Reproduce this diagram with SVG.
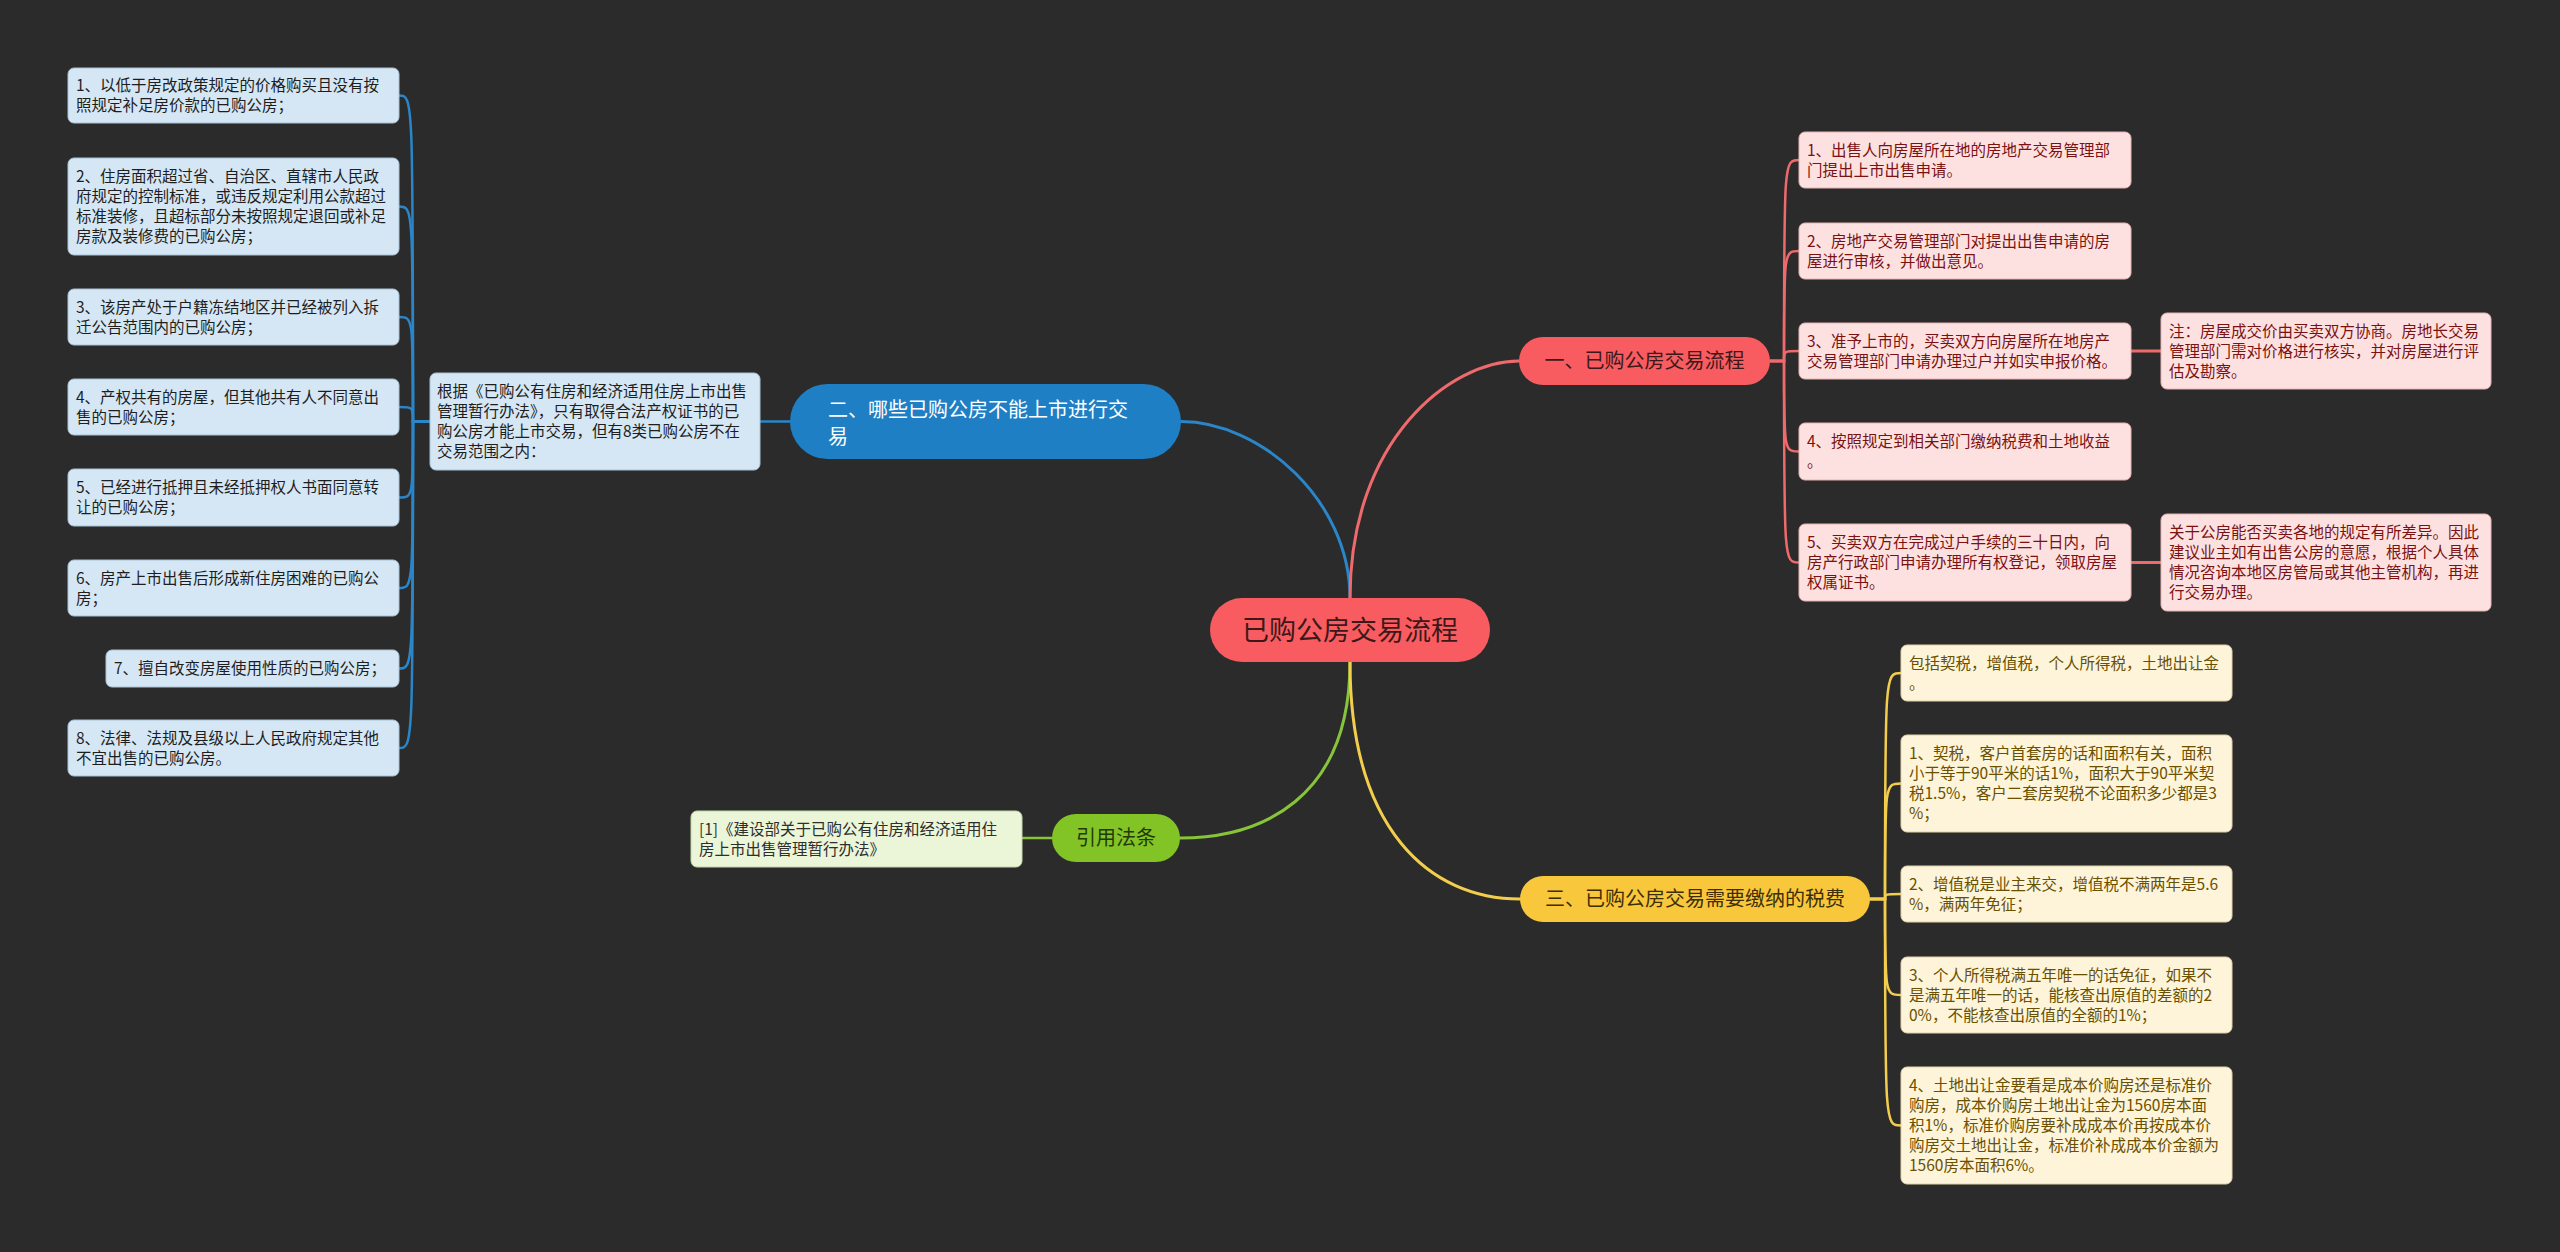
<svg xmlns="http://www.w3.org/2000/svg" width="2560" height="1252" viewBox="0 0 2560 1252">
<style>
text{font-family:"Noto Sans CJK SC","Noto Sans",sans-serif;}
.t{font-size:15.5px;}
.tb{fill:#1e1e1e;}
.tr{fill:#7a1212;}
.ty{fill:#6a5000;}
.tg{fill:#2e2e2e;}
.bb{fill:#d5e7f4;stroke:#a9c3d6;stroke-width:1;}
.br{fill:#fde1e1;stroke:#e6b3b3;stroke-width:1;}
.by{fill:#fdf4da;stroke:#e2d3a6;stroke-width:1;}
.bg{fill:#ebf5d8;stroke:#c3d6a6;stroke-width:1;}
.c{fill:none;stroke-linecap:round;}
.cb{stroke:#2a86c8;}
.cr{stroke:#ef6a6d;}
.cy{stroke:#f3cd4c;}
.cg{stroke:#86c53a;}
.main{font-size:20px;text-anchor:middle;}
</style>
<rect x="0" y="0" width="2560" height="1252" fill="#2b2b2b"/>

<g id="connectors">
  <path class="c cb" stroke-width="3" d="M1350 598 C1350 500 1260 421.5 1181 421.5"/>
  <path class="c cr" stroke-width="3" d="M1350 598 C1350 440 1450 361 1519 361"/>
  <path class="c cg" stroke-width="3" d="M1350 662 C1350 800 1260 838 1180 838"/>
  <path class="c cy" stroke-width="3" d="M1350 662 C1350 830 1430 899 1520 899"/>
  <path class="c cb" stroke-width="2.5" d="M790 421.5 H760"/>
  <path class="c cg" stroke-width="2.5" d="M1052 838 H1022"/>
  <g class="c cb" stroke-width="2.5">
    <path d="M430 421.5 H413 C413 95.5 413 95.5 399 95.5"/>
    <path d="M430 421.5 H413 C413 206.5 413 206.5 399 206.5"/>
    <path d="M430 421.5 H413 C413 317 413 317 399 317"/>
    <path d="M430 421.5 H413 C413 407 413 407 399 407"/>
    <path d="M430 421.5 H413 C413 497.5 413 497.5 399 497.5"/>
    <path d="M430 421.5 H413 C413 588 413 588 399 588"/>
    <path d="M430 421.5 H413 C413 668.5 413 668.5 399 668.5"/>
    <path d="M430 421.5 H413 C413 748 413 748 399 748"/>
  </g>
  <g class="c cr" stroke-width="2.5">
    <path d="M1770 361 H1784 C1784 160 1784 160 1799 160"/>
    <path d="M1770 361 H1784 C1784 251 1784 251 1799 251"/>
    <path d="M1770 361 H1784 C1784 351 1784 351 1799 351"/>
    <path d="M1770 361 H1784 C1784 451.5 1784 451.5 1799 451.5"/>
    <path d="M1770 361 H1784 C1784 562.5 1784 562.5 1799 562.5"/>
    <path stroke-width="3" d="M2131 351 H2161"/>
    <path stroke-width="3" d="M2131 562.5 H2161"/>
  </g>
  <g class="c cy" stroke-width="2.5">
    <path d="M1870 899 H1885 C1885 673 1885 673 1901 673"/>
    <path d="M1870 899 H1885 C1885 783.5 1885 783.5 1901 783.5"/>
    <path d="M1870 899 H1885 C1885 894 1885 894 1901 894"/>
    <path d="M1870 899 H1885 C1885 995 1885 995 1901 995"/>
    <path d="M1870 899 H1885 C1885 1125.5 1885 1125.5 1901 1125.5"/>
  </g>
</g>

<g id="root">
  <rect x="1210" y="598" width="280" height="64" rx="32" fill="#f85c60"/>
  <text x="1350" y="639.5" font-size="27" text-anchor="middle" fill="#3d1818">已购公房交易流程</text>
</g>

<g id="topic-1">
  <rect x="1519" y="337" width="251" height="48" rx="24" fill="#f85c60"/>
  <text class="main" x="1644.5" y="368" fill="#3d1818">一、已购公房交易流程</text>
</g>
<g id="topic-2">
  <rect x="790" y="384" width="391" height="75" rx="37.5" fill="#1f7fc5"/>
  <text x="828" y="417" font-size="20" fill="#ffffff">二、哪些已购公房不能上市进行交</text>
  <text x="828" y="444" font-size="20" fill="#ffffff">易</text>
</g>
<g id="topic-3">
  <rect x="1520" y="876" width="350" height="46" rx="23" fill="#f9c73b"/>
  <text class="main" x="1695" y="906" fill="#3d2f05">三、已购公房交易需要缴纳的税费</text>
</g>
<g id="topic-ref">
  <rect x="1052" y="814" width="128" height="48" rx="24" fill="#82c425"/>
  <text class="main" x="1116" y="845" fill="#233a06">引用法条</text>
</g>

<g id="blue-intro">
  <rect class="bb" x="430" y="373" width="330" height="97" rx="6"/>
  <text class="t tb" x="437" y="397">根据《已购公有住房和经济适用住房上市出售</text>
  <text class="t tb" x="437" y="417">管理暂行办法》，只有取得合法产权证书的已</text>
  <text class="t tb" x="437" y="437">购公房才能上市交易，但有8类已购公房不在</text>
  <text class="t tb" x="437" y="457">交易范围之内：</text>
</g>
<g id="blue-1">
  <rect class="bb" x="68" y="68" width="331" height="55" rx="6"/>
  <text class="t tb" x="76" y="91">1、以低于房改政策规定的价格购买且没有按</text>
  <text class="t tb" x="76" y="111">照规定补足房价款的已购公房；</text>
</g>
<g id="blue-2">
  <rect class="bb" x="68" y="158" width="331" height="97" rx="6"/>
  <text class="t tb" x="76" y="182">2、住房面积超过省、自治区、直辖市人民政</text>
  <text class="t tb" x="76" y="202">府规定的控制标准，或违反规定利用公款超过</text>
  <text class="t tb" x="76" y="222">标准装修，且超标部分未按照规定退回或补足</text>
  <text class="t tb" x="76" y="242">房款及装修费的已购公房；</text>
</g>
<g id="blue-3">
  <rect class="bb" x="68" y="289" width="331" height="56" rx="6"/>
  <text class="t tb" x="76" y="312.5">3、该房产处于户籍冻结地区并已经被列入拆</text>
  <text class="t tb" x="76" y="332.5">迁公告范围内的已购公房；</text>
</g>
<g id="blue-4">
  <rect class="bb" x="68" y="379" width="331" height="56" rx="6"/>
  <text class="t tb" x="76" y="402.5">4、产权共有的房屋，但其他共有人不同意出</text>
  <text class="t tb" x="76" y="422.5">售的已购公房；</text>
</g>
<g id="blue-5">
  <rect class="bb" x="68" y="469" width="331" height="57" rx="6"/>
  <text class="t tb" x="76" y="493">5、已经进行抵押且未经抵押权人书面同意转</text>
  <text class="t tb" x="76" y="513">让的已购公房；</text>
</g>
<g id="blue-6">
  <rect class="bb" x="68" y="560" width="331" height="56" rx="6"/>
  <text class="t tb" x="76" y="583.5">6、房产上市出售后形成新住房困难的已购公</text>
  <text class="t tb" x="76" y="603.5">房；</text>
</g>
<g id="blue-7">
  <rect class="bb" x="106" y="650" width="293" height="37" rx="6"/>
  <text class="t tb" x="114" y="674">7、擅自改变房屋使用性质的已购公房；</text>
</g>
<g id="blue-8">
  <rect class="bb" x="68" y="720" width="331" height="56" rx="6"/>
  <text class="t tb" x="76" y="743.5">8、法律、法规及县级以上人民政府规定其他</text>
  <text class="t tb" x="76" y="763.5">不宜出售的已购公房。</text>
</g>

<g id="red-1">
  <rect class="br" x="1799" y="132" width="332" height="56" rx="6"/>
  <text class="t tr" x="1807" y="155.5">1、出售人向房屋所在地的房地产交易管理部</text>
  <text class="t tr" x="1807" y="175.5">门提出上市出售申请。</text>
</g>
<g id="red-2">
  <rect class="br" x="1799" y="223" width="332" height="56" rx="6"/>
  <text class="t tr" x="1807" y="246.5">2、房地产交易管理部门对提出出售申请的房</text>
  <text class="t tr" x="1807" y="266.5">屋进行审核，并做出意见。</text>
</g>
<g id="red-3">
  <rect class="br" x="1799" y="323" width="332" height="56" rx="6"/>
  <text class="t tr" x="1807" y="346.5">3、准予上市的，买卖双方向房屋所在地房产</text>
  <text class="t tr" x="1807" y="366.5">交易管理部门申请办理过户并如实申报价格。</text>
</g>
<g id="red-4">
  <rect class="br" x="1799" y="423" width="332" height="57" rx="6"/>
  <text class="t tr" x="1807" y="447">4、按照规定到相关部门缴纳税费和土地收益</text>
  <text class="t tr" x="1807" y="467">。</text>
</g>
<g id="red-5">
  <rect class="br" x="1799" y="524" width="332" height="77" rx="6"/>
  <text class="t tr" x="1807" y="548">5、买卖双方在完成过户手续的三十日内，向</text>
  <text class="t tr" x="1807" y="568">房产行政部门申请办理所有权登记，领取房屋</text>
  <text class="t tr" x="1807" y="588">权属证书。</text>
</g>
<g id="red-note-3">
  <rect class="br" x="2161" y="313" width="330" height="76" rx="6"/>
  <text class="t tr" x="2169" y="336.5">注：房屋成交价由买卖双方协商。房地长交易</text>
  <text class="t tr" x="2169" y="356.5">管理部门需对价格进行核实，并对房屋进行评</text>
  <text class="t tr" x="2169" y="376.5">估及勘察。</text>
</g>
<g id="red-note-5">
  <rect class="br" x="2161" y="514" width="330" height="97" rx="6"/>
  <text class="t tr" x="2169" y="538">关于公房能否买卖各地的规定有所差异。因此</text>
  <text class="t tr" x="2169" y="558">建议业主如有出售公房的意愿，根据个人具体</text>
  <text class="t tr" x="2169" y="578">情况咨询本地区房管局或其他主管机构，再进</text>
  <text class="t tr" x="2169" y="598">行交易办理。</text>
</g>

<g id="yellow-0">
  <rect class="by" x="1901" y="645" width="331" height="56" rx="6"/>
  <text class="t ty" x="1909" y="668.5">包括契税，增值税，个人所得税，土地出让金</text>
  <text class="t ty" x="1909" y="688.5">。</text>
</g>
<g id="yellow-1">
  <rect class="by" x="1901" y="735" width="331" height="97" rx="6"/>
  <text class="t ty" x="1909" y="759">1、契税，客户首套房的话和面积有关，面积</text>
  <text class="t ty" x="1909" y="779">小于等于90平米的话1%，面积大于90平米契</text>
  <text class="t ty" x="1909" y="799">税1.5%，客户二套房契税不论面积多少都是3</text>
  <text class="t ty" x="1909" y="819">%；</text>
</g>
<g id="yellow-2">
  <rect class="by" x="1901" y="866" width="331" height="56" rx="6"/>
  <text class="t ty" x="1909" y="889.5">2、增值税是业主来交，增值税不满两年是5.6</text>
  <text class="t ty" x="1909" y="909.5">%，满两年免征；</text>
</g>
<g id="yellow-3">
  <rect class="by" x="1901" y="957" width="331" height="76" rx="6"/>
  <text class="t ty" x="1909" y="980.5">3、个人所得税满五年唯一的话免征，如果不</text>
  <text class="t ty" x="1909" y="1000.5">是满五年唯一的话，能核查出原值的差额的2</text>
  <text class="t ty" x="1909" y="1020.5">0%，不能核查出原值的全额的1%；</text>
</g>
<g id="yellow-4">
  <rect class="by" x="1901" y="1067" width="331" height="117" rx="6"/>
  <text class="t ty" x="1909" y="1091">4、土地出让金要看是成本价购房还是标准价</text>
  <text class="t ty" x="1909" y="1111">购房，成本价购房土地出让金为1560房本面</text>
  <text class="t ty" x="1909" y="1131">积1%，标准价购房要补成成本价再按成本价</text>
  <text class="t ty" x="1909" y="1151">购房交土地出让金，标准价补成成本价金额为</text>
  <text class="t ty" x="1909" y="1171">1560房本面积6%。</text>
</g>

<g id="green-1">
  <rect class="bg" x="691" y="811" width="331" height="56" rx="6"/>
  <text class="t tg" x="699" y="834.5">[1]《建设部关于已购公有住房和经济适用住</text>
  <text class="t tg" x="699" y="854.5">房上市出售管理暂行办法》</text>
</g>
</svg>
